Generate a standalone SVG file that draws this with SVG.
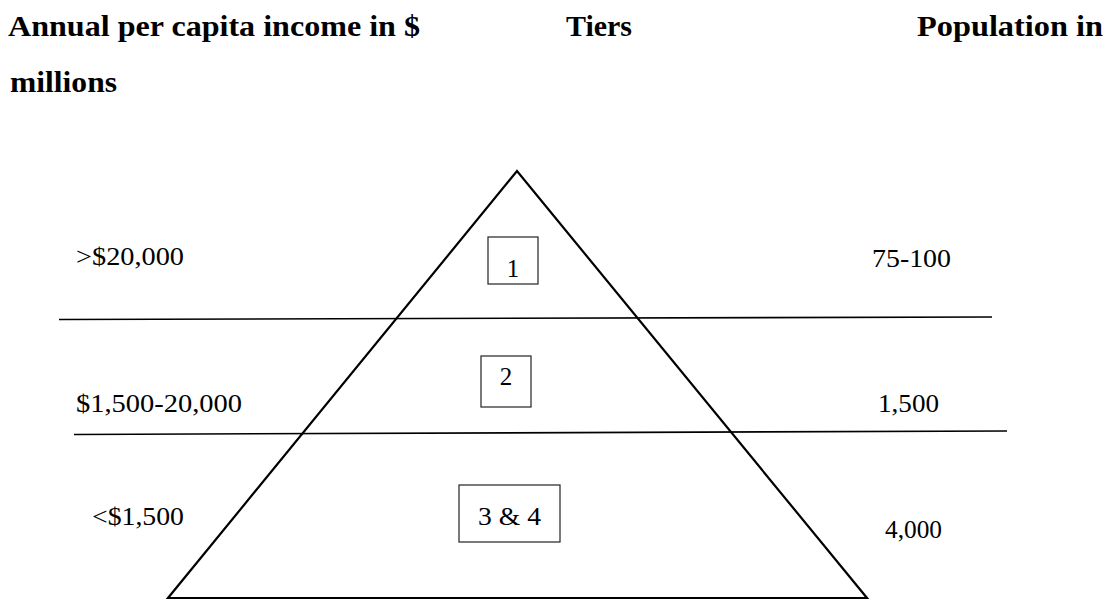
<svg xmlns="http://www.w3.org/2000/svg" width="1115" height="601" viewBox="0 0 1115 601">
<style>
.h{font-family:"Liberation Serif","Times New Roman",serif;font-weight:bold;font-size:30px;fill:#000}
.t{font-family:"Liberation Serif","Times New Roman",serif;font-size:25px;fill:#000}
.box{fill:#fff;stroke:#222;stroke-width:1.2}
.ln{stroke:#000;stroke-width:1.6;fill:none}
</style>
<rect width="1115" height="601" fill="#fff"/>
<g id="headings">
<text class="h" x="8" y="36" textLength="412" lengthAdjust="spacingAndGlyphs">Annual per capita income in $</text>
<text class="h" x="566" y="36" textLength="66" lengthAdjust="spacingAndGlyphs">Tiers</text>
<text class="h" x="917" y="36" textLength="186" lengthAdjust="spacingAndGlyphs">Population in</text>
<text class="h" x="10" y="92" textLength="107" lengthAdjust="spacingAndGlyphs">millions</text>
</g>
<g id="connectors">
<polygon points="517,171 168,598 867,598" fill="none" stroke="#000" stroke-width="2.2" stroke-linejoin="miter"/>
<line class="ln" x1="59" y1="319.5" x2="992" y2="317"/>
<line class="ln" x1="74" y1="434.5" x2="1007" y2="431"/>
</g>
<g id="tier1">
<rect class="box" x="488" y="237" width="50" height="47"/>
<text class="t" x="513" y="277" text-anchor="middle">1</text>
</g>
<g id="tier2">
<rect class="box" x="481" y="356" width="50" height="51"/>
<text class="t" x="506" y="385" text-anchor="middle">2</text>
</g>
<g id="tier34">
<rect class="box" x="459" y="485" width="101" height="57"/>
<text class="t" x="478" y="525" textLength="63" lengthAdjust="spacingAndGlyphs">3 &amp; 4</text>
</g>
<g id="income">
<text class="t" x="76" y="265" textLength="108" lengthAdjust="spacingAndGlyphs">&gt;$20,000</text>
<text class="t" x="76" y="412" textLength="166" lengthAdjust="spacingAndGlyphs">$1,500-20,000</text>
<text class="t" x="92" y="525" textLength="92" lengthAdjust="spacingAndGlyphs">&lt;$1,500</text>
</g>
<g id="population">
<text class="t" x="872" y="267" textLength="79" lengthAdjust="spacingAndGlyphs">75-100</text>
<text class="t" x="878" y="412" textLength="61" lengthAdjust="spacingAndGlyphs">1,500</text>
<text class="t" x="885" y="538" textLength="57" lengthAdjust="spacingAndGlyphs">4,000</text>
</g>
</svg>
